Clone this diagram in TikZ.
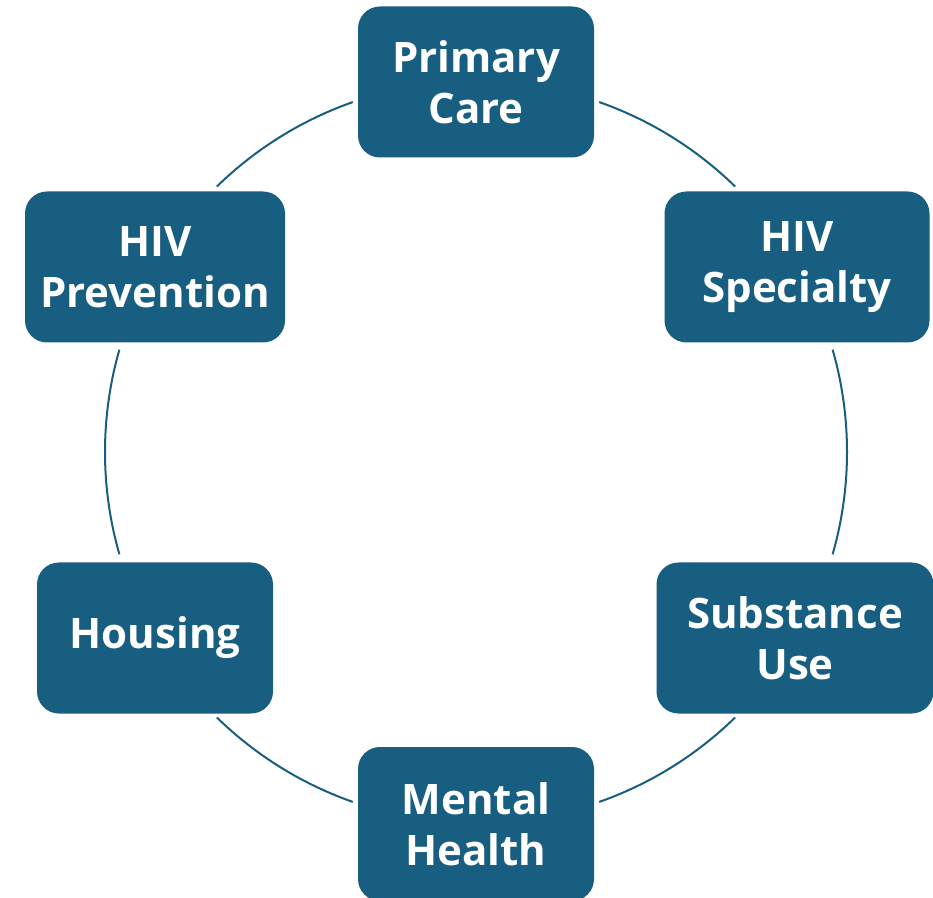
\documentclass[tikz,border=0pt]{standalone}
\usepackage{fontspec}
\setmainfont{Open Sans}
\usepackage{xcolor}
\definecolor{careblue}{HTML}{175E80}

\tikzset{
  svcbox/.style={fill=careblue, rounded corners=22pt, minimum width=236pt,
    minimum height=151pt, inner xsep=0pt, align=center, text=white,
    font=\fontsize{42}{51}\selectfont\bfseries},
  ring/.style={draw=careblue, line width=2pt}
}

\begin{document}
\begin{tikzpicture}[x=1pt, y=1pt]
  \useasboundingbox (0,0) rectangle (933,897);
  \coordinate (c) at (476,445);
  % boxes around the ring
  \node[svcbox] (pc) at (476,815) {Primary\\Care};
  \node[svcbox, minimum width=265pt] (hs) at (797,630) {HIV\\Specialty};
  \node[svcbox, minimum width=277pt] (su) at (795,259) {Substance\\Use};
  \node[svcbox, minimum height=154pt] (mh) at (476,73) {Mental\\Health};
  \node[svcbox] (ho) at (155,259) {Housing};
  \node[svcbox, minimum width=260pt] (hp) at (155,630) {HIV\\Prevention};
  % arcs between the boxes
  \foreach \a/\b in {70.6/45.7, 16/-16, -45.7/-70.6, -109.4/-134.3, -164/-196, 134.3/109.4}
    \draw[ring] (c) ++(\a:371) arc[start angle=\a, end angle=\b, radius=371];
\end{tikzpicture}
\end{document}
